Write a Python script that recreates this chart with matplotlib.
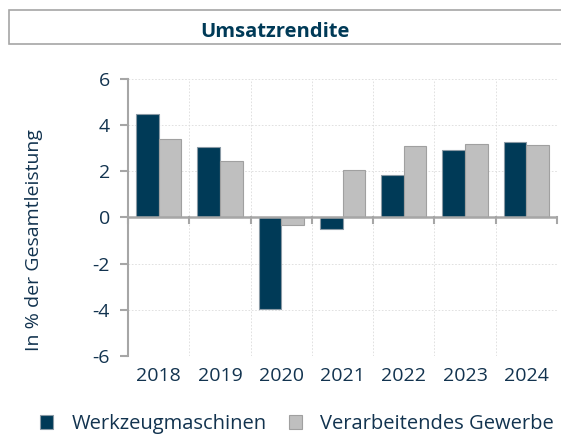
import numpy as np
import matplotlib.pyplot as plt
from matplotlib.patches import Rectangle

years = ['2018', '2019', '2020', '2021', '2022', '2023', '2024']
werkzeug = [4.5, 3.04, -3.95, -0.5, 1.83, 2.91, 3.26]
gewerbe = [3.42, 2.44, -0.32, 2.06, 3.10, 3.20, 3.13]

navy = '#003a57'
grey = '#bfbfbf'
text_col = '#12334f'

plt.rcParams['font.family'] = ['Open Sans', 'DejaVu Sans']
plt.rcParams['axes.unicode_minus'] = False

fig = plt.figure(figsize=(5.61, 4.38), dpi=100)
ax = fig.add_axes([128 / 561, 1 - 356 / 438, (557 - 128) / 561, (356 - 79) / 438])

x = np.arange(len(years))
width = 0.37
b1 = ax.bar(x - width / 2, werkzeug, width, color=navy, edgecolor='#8a9aa5', linewidth=0.8, zorder=3)
b2 = ax.bar(x + width / 2, gewerbe, width, color=grey, edgecolor='#a0a0a0', linewidth=0.8, zorder=3)

ax.set_xlim(-0.5, len(years) - 0.5)
ax.set_ylim(-6, 6)
ax.set_yticks(range(-6, 7, 2))
ax.set_xticks(x)
ax.set_xticklabels(years)
ax.set_xticks(np.arange(-0.5, len(years)), minor=True)

ax.grid(True, which='major', axis='y', color='#dcdcdc', linestyle=(0, (2, 2)), linewidth=0.6, zorder=0)
ax.grid(True, which='minor', axis='x', color='#dcdcdc', linestyle=(0, (2, 2)), linewidth=0.6, zorder=0)

for s in ['top', 'right', 'bottom']:
    ax.spines[s].set_visible(False)
ax.spines['left'].set_color('#a6a6a6')
ax.spines['left'].set_linewidth(1.5)
ax.axhline(0, color='#a6a6a6', linewidth=1.8, zorder=4)
# category ticks on the zero line
for xb in np.arange(-0.5, len(years)):
    ax.plot([xb, xb], [0, -0.25], color='#a6a6a6', linewidth=1.5, zorder=4, clip_on=False)

ax.tick_params(axis='y', colors='#a6a6a6', labelcolor=text_col, labelsize=14, length=6, width=1.5, pad=7)
ax.tick_params(axis='x', which='both', length=0, labelcolor=text_col, labelsize=14, pad=8)
ax.set_ylabel('In % der Gesamtleistung', color=text_col, fontsize=14)
ax.yaxis.set_label_coords(-0.198, 0.42)

# title box
fig.patches.append(Rectangle((9 / 561, 1 - 44 / 438), 560 / 561, 34 / 438, transform=fig.transFigure,
                             facecolor='white', edgecolor='#a6a6a6', linewidth=1.2))
fig.text(275 / 561, 1 - 32 / 438, 'Umsatzrendite', ha='center', va='center',
         fontsize=14.5, fontweight='bold', color=navy)

fig.legend([b1, b2], ['Werkzeugmaschinen', 'Verarbeitendes Gewerbe'], loc='center',
           bbox_to_anchor=(297 / 561, 1 - 424 / 438), ncol=2, frameon=False, fontsize=14.5,
           handlelength=0.65, handleheight=0.65, handletextpad=0.9, columnspacing=1.1,
           labelcolor=text_col, borderpad=0)

fig.savefig('out.png', dpi=100)
